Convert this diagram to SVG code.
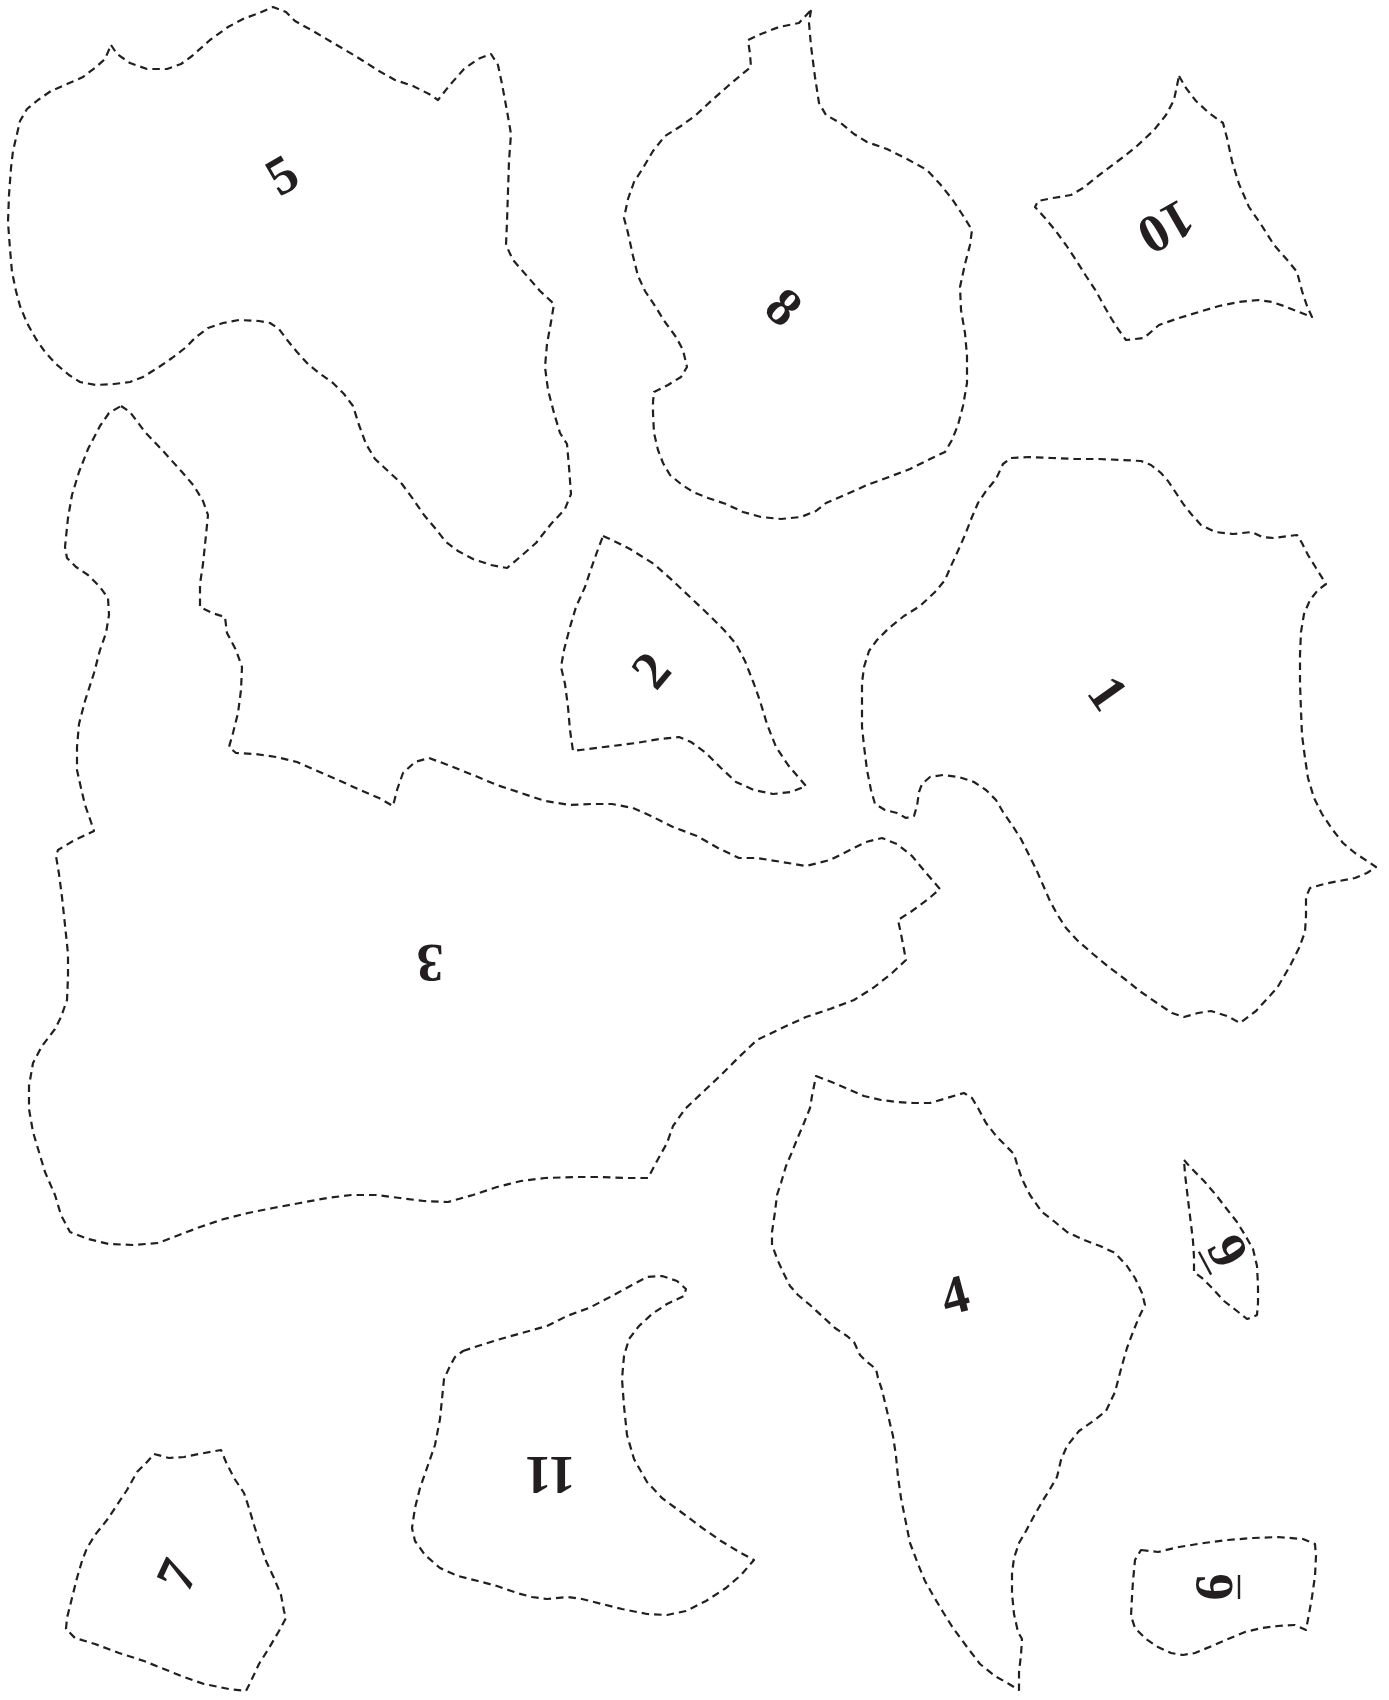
<svg xmlns="http://www.w3.org/2000/svg" width="1389" height="1700" viewBox="0 0 1389 1700">
<style>
.cut{fill:none;stroke:#231f20;stroke-width:2.2;stroke-dasharray:7.5 5;stroke-linejoin:round}
.num{font-family:"Liberation Serif","Times New Roman",serif;font-weight:bold;font-size:54px;fill:#231f20;text-anchor:middle}
.ul{stroke:#231f20;stroke-width:2.4}
</style>
<rect width="1389" height="1700" fill="#fff"/>
<g id="piece-5">
<path class="cut" d="M111,45 L117,54 130,63 147,69 167,69 181,64 192,56 210,40 228,27 243,19 259,13 273,7 286,12 295,21 313,31 335,44 357,57 379,71 395,80 413,86 429,94 438,100 449,86 464,69 478,59 491,54 498,65 502,84 507,111 511,134 509,161 508,191 507,222 506,245 513,260 527,276 540,291 554,304 551,322 547,344 545,367 548,390 554,413 560,433 567,444 569,467 571,494 565,509 551,524 536,543 520,557 507,568 491,565 473,559 458,551 446,542 435,528 424,515 413,499 402,484 388,471 375,459 366,444 359,425 353,406 344,394 333,383 319,373 308,364 297,352 288,341 279,329 270,323 259,321 239,320 223,323 208,328 196,337 185,348 172,358 159,367 143,377 130,382 114,384 96,385 80,382 69,375 56,364 45,352 36,339 27,323 20,306 16,291 12,272 10,249 8,222 9,195 11,168 13,151 17,134 20,121 27,109 38,100 51,91 67,84 83,77 96,67 105,59 Z"/>
<g transform="translate(282,175) rotate(-30)"><text class="num" y="18">5</text></g>
</g>
<g id="piece-8">
<path class="cut" d="M811,10 L809,23 811,46 815,77 819,103 826,115 842,124 854,134 867,142 887,149 907,159 927,170 940,184 952,199 962,214 972,230 970,245 965,264 960,287 961,310 965,333 967,356 967,383 963,406 958,425 952,440 945,452 930,459 910,469 889,477 867,485 847,494 826,503 816,511 801,517 781,519 761,517 743,512 726,504 708,498 693,492 681,484 670,475 663,463 658,450 654,433 653,413 653,402 654,392 668,385 681,377 687,367 683,350 676,337 665,322 655,306 645,291 638,276 633,256 628,233 624,218 628,199 634,182 643,168 653,151 665,136 681,126 696,115 711,101 728,86 741,75 751,67 750,54 748,40 761,34 779,27 799,23 Z"/>
<g transform="translate(784,307) rotate(42)"><text class="num" y="18">8</text></g>
</g>
<g id="piece-10">
<path class="cut" d="M1179,76 L1186,88 1196,101 1209,113 1223,123 1227,138 1232,161 1239,184 1249,207 1262,226 1274,245 1289,262 1297,272 1302,291 1307,306 1312,317 1299,312 1284,306 1272,302 1259,300 1239,302 1219,306 1199,312 1179,318 1159,325 1144,338 1126,340 1118,329 1111,318 1103,304 1096,291 1086,276 1076,260 1066,245 1055,230 1045,218 1035,207 1038,201 1053,198 1071,195 1083,188 1098,176 1118,161 1136,147 1154,130 1166,115 1174,100 Z"/>
<g transform="translate(1166,227) rotate(150)"><text class="num" y="18">10</text></g>
</g>
<g id="piece-2">
<path class="cut" d="M603,536 L612,540 630,549 654,564 673,581 691,598 709,615 724,630 736,644 745,661 754,684 760,701 767,724 776,747 788,765 806,786 791,792 773,794 754,790 736,782 721,768 706,753 691,742 679,737 660,739 636,743 612,746 588,749 573,751 570,730 568,707 565,684 561,667 564,650 570,627 576,607 585,587 591,569 597,552 Z"/>
<g transform="translate(651,670) rotate(-50)"><text class="num" y="18">2</text></g>
</g>
<g id="piece-1">
<path class="cut" d="M1011,458 L1029,457 1052,458 1075,459 1099,459 1122,460 1141,461 1151,465 1161,473 1168,481 1176,493 1184,505 1192,515 1201,525 1215,532 1233,534 1252,532 1262,537 1273,538 1297,535 1302,543 1308,555 1316,568 1326,584 1318,590 1310,600 1304,614 1301,632 1300,655 1300,683 1301,711 1302,735 1305,758 1308,778 1314,798 1322,814 1332,829 1343,843 1355,853 1367,861 1376,867 1367,873 1355,878 1339,881 1324,884 1310,888 1306,897 1306,916 1305,932 1299,948 1291,964 1283,978 1277,988 1267,999 1256,1011 1240,1023 1227,1016 1211,1011 1198,1013 1184,1017 1172,1013 1157,1003 1141,992 1126,980 1110,968 1093,954 1077,940 1066,928 1057,914 1050,901 1043,885 1036,869 1029,855 1021,839 1012,825 1003,812 996,800 986,790 974,782 959,777 943,775 930,777 922,784 919,792 917,806 914,816 906,818 897,813 885,810 875,804 871,790 867,770 864,746 862,727 862,703 862,683 864,667 869,651 877,640 889,628 904,616 920,606 935,592 945,580 951,566 957,553 965,535 972,517 978,503 986,491 996,479 1003,464 Z"/>
<g transform="translate(1108,693) rotate(55)"><text class="num" y="18">1</text></g>
</g>
<g id="piece-3">
<path class="cut" d="M121,406 L130,412 145,432 164,452 182,472 194,486 203,501 208,515 206,535 203,564 200,584 200,607 212,613 225,617 227,633 236,650 242,667 241,690 238,713 233,733 229,747 236,753 255,754 276,757 297,762 315,770 336,779 358,789 379,798 393,806 397,790 403,773 415,762 429,758 448,765 473,775 497,785 521,793 545,801 570,805 591,804 612,804 633,808 651,816 673,827 697,836 718,848 739,858 757,858 782,862 806,866 830,860 848,851 866,842 882,838 897,844 912,856 927,874 940,889 927,900 912,911 898,920 901,934 906,960 891,974 873,988 854,1000 830,1009 806,1017 782,1028 757,1040 739,1057 721,1075 703,1092 685,1109 673,1126 667,1143 657,1161 648,1178 624,1178 600,1177 576,1177 545,1178 521,1181 497,1187 473,1195 448,1202 424,1201 400,1198 376,1195 351,1195 327,1198 300,1203 273,1208 248,1213 224,1219 200,1227 179,1235 158,1243 133,1245 109,1244 88,1239 70,1232 61,1215 55,1195 45,1172 39,1152 33,1132 29,1109 29,1086 33,1063 42,1046 55,1029 61,1017 67,1000 68,977 68,954 65,925 62,897 59,874 56,856 58,850 73,841 94,831 91,822 85,805 81,788 77,770 77,747 79,724 85,701 94,673 100,650 106,633 109,615 108,598 100,587 88,575 76,567 67,558 65,547 68,518 72,495 79,472 88,449 100,426 109,413 Z"/>
<g transform="translate(430,963) rotate(180)"><text class="num" y="18">3</text></g>
</g>
<g id="piece-4">
<path class="cut" d="M816,1076 L829,1081 848,1089 864,1096 881,1100 897,1102 914,1103 930,1103 947,1098 964,1093 972,1098 978,1108 986,1123 997,1137 1007,1147 1014,1154 1017,1164 1022,1179 1030,1195 1042,1212 1055,1222 1067,1232 1084,1240 1100,1246 1115,1253 1127,1266 1135,1278 1142,1293 1145,1305 1139,1317 1133,1332 1127,1348 1121,1369 1115,1392 1106,1411 1096,1419 1079,1431 1067,1446 1061,1460 1057,1477 1050,1489 1042,1502 1034,1516 1026,1531 1019,1543 1014,1558 1012,1574 1012,1593 1014,1614 1018,1632 1022,1639 1021,1655 1019,1672 1019,1690 1009,1684 995,1676 980,1664 967,1647 953,1628 943,1612 934,1597 925,1581 918,1564 910,1543 906,1523 901,1498 898,1477 896,1456 893,1436 887,1411 882,1390 878,1378 876,1369 866,1361 860,1355 854,1342 847,1336 835,1328 823,1317 810,1305 798,1295 790,1286 784,1274 778,1261 772,1245 772,1232 775,1212 777,1195 781,1183 786,1166 792,1152 798,1137 804,1123 810,1108 812,1096 815,1081 Z"/>
<g transform="translate(955,1295) rotate(-15)"><text class="num" y="18">4</text></g>
</g>
<g id="piece-9">
<path class="cut" d="M1184,1160 L1191,1168 1204,1181 1216,1195 1226,1208 1237,1222 1245,1235 1253,1249 1257,1266 1258,1286 1258,1303 1257,1315 1253,1317 1247,1319 1237,1311 1224,1301 1212,1288 1202,1278 1194,1272 1194,1257 1193,1241 1191,1224 1189,1208 1187,1191 1185,1174 Z"/>
<g transform="translate(1228,1251) rotate(62)"><text class="num" y="18">9</text><line class="ul" x1="-13" y1="26" x2="13" y2="26"/></g>
</g>
<g id="piece-6">
<path class="cut" d="M1141,1550 L1158,1552 1179,1547 1204,1543 1228,1540 1253,1538 1278,1537 1303,1539 1315,1544 1316,1556 1315,1576 1312,1597 1309,1614 1306,1630 1295,1625 1278,1626 1262,1628 1245,1632 1228,1639 1212,1646 1195,1653 1183,1655 1171,1653 1158,1647 1146,1639 1135,1628 1131,1616 1132,1597 1133,1581 1135,1560 Z"/>
<g transform="translate(1214,1587) rotate(-90)"><text class="num" y="18">6</text><line class="ul" x1="-12" y1="25" x2="12" y2="25"/></g>
</g>
<g id="piece-11">
<path class="cut" d="M463,1351 L478,1346 497,1340 522,1333 547,1326 567,1316 589,1308 612,1296 632,1285 647,1277 662,1276 677,1281 686,1289 684,1296 667,1304 652,1314 639,1326 629,1339 624,1356 622,1379 624,1406 627,1435 634,1459 647,1482 662,1498 681,1512 701,1527 721,1541 741,1553 754,1560 741,1575 726,1588 706,1601 686,1611 667,1615 647,1614 622,1609 602,1604 582,1599 567,1597 547,1599 532,1597 517,1593 497,1586 478,1581 458,1576 440,1568 425,1555 415,1541 412,1528 415,1508 420,1488 428,1465 435,1445 440,1419 442,1399 444,1379 450,1366 455,1357 Z"/>
<g transform="translate(550,1475) rotate(180)"><text class="num" y="18">11</text></g>
</g>
<g id="piece-7">
<path class="cut" d="M154,1454 L169,1458 184,1457 199,1454 221,1450 226,1462 234,1478 244,1493 249,1508 254,1525 259,1541 266,1561 274,1578 281,1595 284,1611 286,1618 279,1631 269,1648 259,1664 251,1681 246,1691 229,1689 204,1684 184,1677 164,1669 144,1661 119,1653 95,1644 75,1638 66,1629 67,1618 72,1598 77,1578 82,1561 87,1548 95,1535 107,1520 117,1505 127,1490 137,1472 147,1462 Z"/>
<g transform="translate(177,1575) rotate(-65)"><text class="num" y="18">7</text></g>
</g>
<g id="connectors"/>
</svg>
